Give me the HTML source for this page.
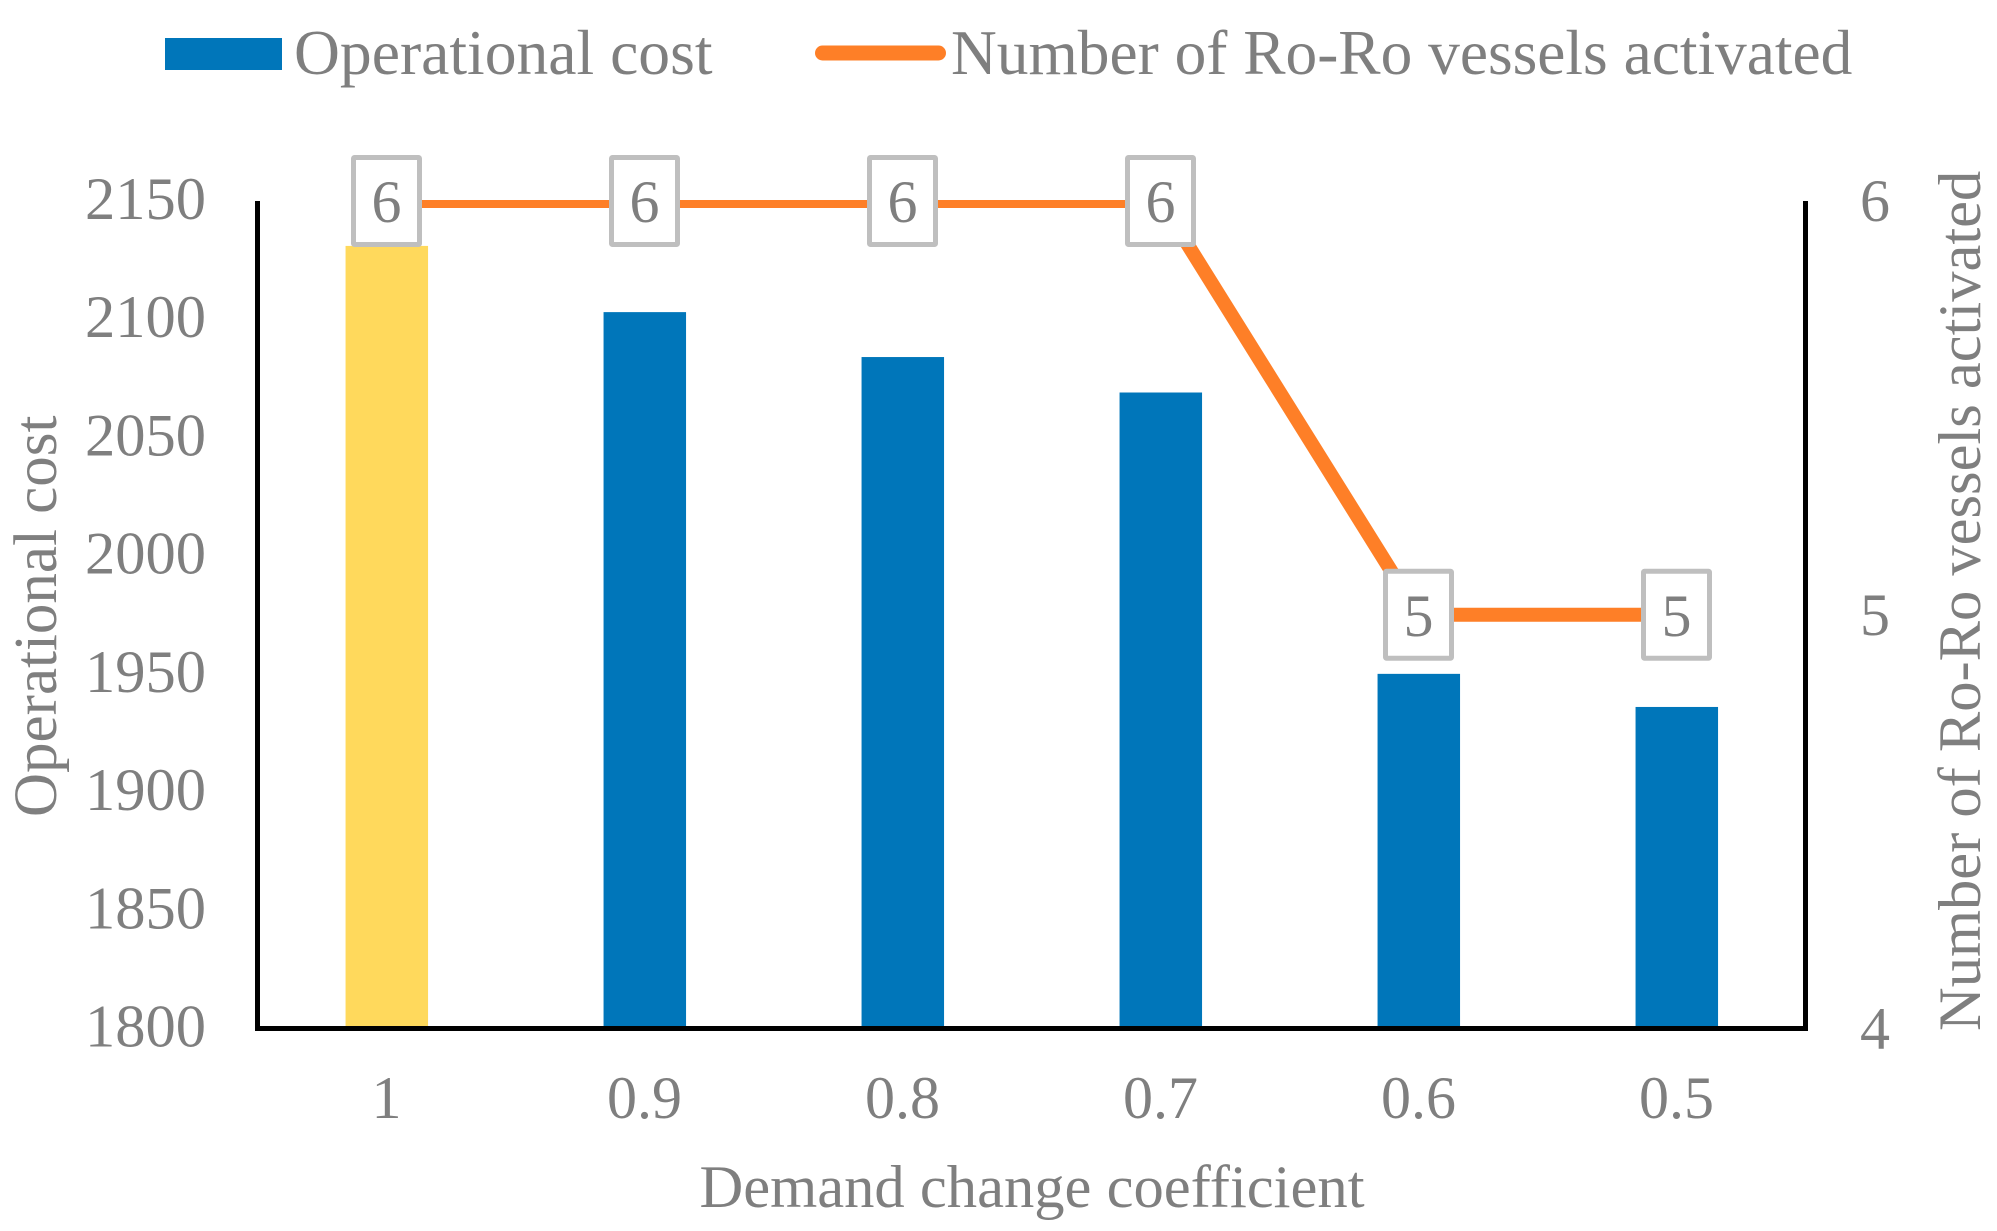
<!DOCTYPE html>
<html lang="en">
<head>
<meta charset="utf-8">
<title>Operational cost and Ro-Ro vessels activated</title>
<style>
html,body{margin:0;padding:0;background:#fff;width:1997px;height:1231px;overflow:hidden}
svg{display:block}
text{font-family:"Liberation Serif","Times New Roman",serif;fill:#7f7f7f}
</style>
</head>
<body>
<svg id="chart" xmlns="http://www.w3.org/2000/svg" width="1997" height="1231" viewBox="0 0 1997 1231">
  <rect x="0" y="0" width="1997" height="1231" fill="#ffffff"/>
  <defs>
    <clipPath id="plot-clip"><rect x="200" y="200" width="1700" height="900"/></clipPath>
  </defs>
  <g>
    <rect x="165" y="38" width="117" height="32" fill="#0076ba"/>
    <text x="294" y="74" font-size="63.6">Operational cost</text>
    <line x1="822.5" y1="53" x2="938.5" y2="53" stroke="#fe7f27" stroke-width="15" stroke-linecap="round"/>
    <text x="951" y="74" font-size="63.4">Number of Ro-Ro vessels activated</text>
  </g>
  <g id="bars"></g>
  <g id="line-layer" clip-path="url(#plot-clip)"></g>
  <g id="axes">
    <rect x="255" y="201" width="5" height="830" fill="#000"/>
    <rect x="1803" y="201" width="5" height="830" fill="#000"/>
    <rect x="255" y="1026" width="1553" height="5" fill="#000"/>
  </g>
  <g id="labels"></g>
  <g id="ticks"></g>
  <text transform="translate(56,817) rotate(-90)" font-size="61">Operational cost</text>
  <text transform="translate(1980,1031) rotate(-90)" font-size="60.5">Number of Ro-Ro vessels activated</text>
  <text x="1032" y="1207" font-size="60.6" text-anchor="middle">Demand change coefficient</text>
</svg>
<script>
const categories = ["1", "0.9", "0.8", "0.7", "0.6", "0.5"];
const costValues = [2131, 2103, 2084, 2069, 1950, 1936];
const vesselValues = [6, 6, 6, 6, 5, 5];
const costTicks = [1800, 1850, 1900, 1950, 2000, 2050, 2100, 2150];
const vesselTicks = [4, 5, 6];

const NS = 'http://www.w3.org/2000/svg';
const plotLeft = 257.5, plotRight = 1805.5, plotTop = 201, plotBottom = 1028.5;
const costMin = 1800, costMax = 2150, vesselMin = 4, vesselMax = 6;
const barWidth = 82.5;

function xPos(i) { return plotLeft + (i + 0.5) * (plotRight - plotLeft) / categories.length; }
function yCost(v) { return plotBottom - (v - costMin) / (costMax - costMin) * (plotBottom - plotTop); }
function yVessel(v) { return plotBottom - (v - vesselMin) / (vesselMax - vesselMin) * (plotBottom - plotTop); }

function make(tag, attrs, parent) {
  const el = document.createElementNS(NS, tag);
  Object.keys(attrs).forEach(function (k) { el.setAttribute(k, attrs[k]); });
  parent.appendChild(el);
  return el;
}

const barsG = document.getElementById('bars');
costValues.forEach(function (v, i) {
  const top = yCost(v);
  const bar = make('rect', {
    x: xPos(i) - barWidth / 2 + 0.3,
    y: top,
    width: barWidth,
    height: 1026 - top,
    fill: i === 0 ? '#ffd95c' : '#0076ba'
  }, barsG);
  
  
});

const lineG = document.getElementById('line-layer');
const points = vesselValues.map(function (v, i) { return xPos(i) + ',' + yVessel(v); }).join(' ');
const seriesLine = make('polyline', {
  points: points,
  fill: 'none',
  stroke: '#fe7f27',
  'stroke-width': 14,
  'stroke-linejoin': 'round',
  'stroke-linecap': 'round'
}, lineG);



const labelsG = document.getElementById('labels');
vesselValues.forEach(function (v, i) {
  const cx = xPos(i), cy = yVessel(v);
  const box = make('rect', {
    x: cx - 33,
    y: cy - 43.5,
    width: 66,
    height: 87,
    rx: 1,
    fill: '#ffffff',
    stroke: '#bfbfbf',
    'stroke-width': 5
  }, labelsG);
  
  
  const t = make('text', { x: cx, y: cy + 21, 'font-size': 60, 'text-anchor': 'middle' }, labelsG);
  t.textContent = v;
  
  
});

const ticksG = document.getElementById('ticks');
costTicks.forEach(function (v) {
  const t = make('text', { x: 206, y: yCost(v) + 18, 'font-size': 60.5, 'text-anchor': 'end' }, ticksG);
  t.textContent = v;
  
  
});
vesselTicks.forEach(function (v) {
  const t = make('text', { x: 1860, y: yVessel(v) + 20, 'font-size': 60 }, ticksG);
  t.textContent = v;
  
  
});
categories.forEach(function (c, i) {
  const t = make('text', { x: xPos(i), y: 1118, 'font-size': 60, 'text-anchor': 'middle' }, ticksG);
  t.textContent = c;
  
  
});
</script>
</body>
</html>
